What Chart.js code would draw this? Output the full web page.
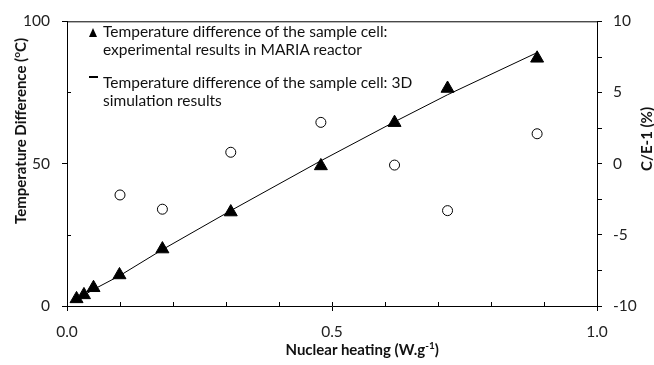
<!DOCTYPE html>
<html lang="en">
<head>
    <meta charset="UTF-8">
    <title>Temperature difference vs nuclear heating</title>
    <script src="https://cdn.jsdelivr.net/npm/chart.js"></script>
    <style>
        body {
            margin: 0;
            background: #fff;
        }

        .chart-wrap {
            position: relative;
            width: 654px;
            height: 365px;
            font-family: Lato, sans-serif;
            color: #111;
        }

        .legend-text {
            position: absolute;
            left: 103px;
            font-size: 15.5px;
            line-height: 18px;
            white-space: nowrap;
        }

        .legend-tri {
            position: absolute;
            left: 89px;
            top: 28px;
            width: 0;
            height: 0;
            border-left: 4.5px solid transparent;
            border-right: 4.5px solid transparent;
            border-bottom: 9px solid #000;
        }

        .legend-dash {
            position: absolute;
            left: 89px;
            top: 76px;
            width: 9px;
            height: 2px;
            background: #000;
        }

        .axis-title {
            position: absolute;
            font-weight: bold;
            font-size: 15px;
            white-space: nowrap;
            line-height: 16px;
        }

        .axis-title sup {
            font-size: 10px;
            line-height: 0;
        }
    </style>
</head>
<body>
    <div class="chart-wrap">
        <canvas id="heatChart"></canvas>

        <div class="legend-tri"></div>
        <div class="legend-text" style="top: 22px;">Temperature difference of the sample cell:<br>experimental results in MARIA reactor</div>
        <div class="legend-dash"></div>
        <div class="legend-text" style="top: 73px;">Temperature difference of the sample cell: 3D<br>simulation results</div>

        <div class="axis-title" id="yTitle">Temperature Difference (<sup>o</sup>C)</div>
        <div class="axis-title" id="y2Title">C/E-1 (%)</div>
        <div class="axis-title" id="xTitle">Nuclear heating (W.g<sup>-1</sup>)</div>
    </div>

    <script>
        // data
        const heating = [0.018, 0.032, 0.050, 0.099, 0.180, 0.309, 0.479, 0.618, 0.718, 0.887];
        const tempExp = [2.5, 3.9, 6.4, 10.9, 20.0, 33.0, 49.2, 64.4, 76.4, 87.0];
        const tempSim = [2.2, 3.8, 5.8, 10.6, 19.8, 33.5, 51.0, 64.7, 74.2, 89.0];
        const ceHeating = [0.100, 0.180, 0.309, 0.479, 0.618, 0.718, 0.887];
        const ceDev = [-2.2, -3.2, 0.8, 2.9, -0.1, -3.3, 2.1];

        // tick labels
        const xTicks = [0, 0.5, 1.0];
        const xTickLabels = ['0.0', '0.5', '1.0'];
        const yTicks = [0, 50, 100];
        const y2Ticks = [-10, -5, 0, 5, 10];
        const xMinor = [0.1, 0.2, 0.3, 0.4, 0.5, 0.6, 0.7, 0.8, 0.9];
        const yMinor = [25, 75];
        const y2Minor = [-7.5, -2.5, 2.5, 7.5];

        const pts = (xs, ys) => xs.map((x, i) => ({ x: x, y: ys[i] }));
        const tickFont = { family: 'Lato', size: 15.5 };

        // minor ticks + top frame line
        const framePlugin = {
            id: 'frame',
            afterDraw(chart) {
                const ctx = chart.ctx;
                const a = chart.chartArea;
                const sx = chart.scales.x, sy = chart.scales.y, sy2 = chart.scales.y2;
                ctx.save();
                ctx.strokeStyle = '#000';
                ctx.lineWidth = 1;
                ctx.beginPath();
                ctx.moveTo(a.left, a.top + 0.5);
                ctx.lineTo(a.right, a.top + 0.5);
                xMinor.forEach(v => {
                    const px = Math.round(sx.getPixelForValue(v)) + 0.5;
                    ctx.moveTo(px, a.bottom);
                    ctx.lineTo(px, a.bottom - 4);
                });
                yMinor.forEach(v => {
                    const py = Math.round(sy.getPixelForValue(v)) + 0.5;
                    ctx.moveTo(a.left, py);
                    ctx.lineTo(a.left + 4, py);
                });
                y2Minor.forEach(v => {
                    const py = Math.round(sy2.getPixelForValue(v)) + 0.5;
                    ctx.moveTo(a.right, py);
                    ctx.lineTo(a.right + 5, py);
                });
                ctx.stroke();
                ctx.restore();
            }
        };

        function axisStyle(extra) {
            return Object.assign({
                grid: { drawOnChartArea: false, tickLength: 5, color: '#000' },
                border: { color: '#000', width: 1 },
                title: { display: false }
            }, extra);
        }

        const ctx = document.getElementById('heatChart').getContext('2d');
        const chart = new Chart(ctx, {
            type: 'scatter',
            data: {
                datasets: [{
                    label: 'Experimental',
                    data: pts(heating, tempExp),
                    pointStyle: 'triangle',
                    pointRadius: 7.5,
                    backgroundColor: '#000',
                    borderColor: '#000',
                    borderWidth: 1,
                    yAxisID: 'y'
                }, {
                    label: 'C/E-1',
                    data: pts(ceHeating, ceDev),
                    pointStyle: 'circle',
                    pointRadius: 5,
                    backgroundColor: '#fff',
                    borderColor: '#000',
                    borderWidth: 1,
                    yAxisID: 'y2'
                }, {
                    label: '3D simulation',
                    data: pts(heating, tempSim),
                    showLine: true,
                    borderColor: '#000',
                    borderWidth: 1,
                    pointRadius: 0,
                    tension: 0,
                    yAxisID: 'y'
                }]
            },
            options: {
                responsive: true,
                maintainAspectRatio: false,
                animation: false,
                layout: { padding: { top: 20, left: 0, right: 0, bottom: 0 } },
                plugins: {
                    legend: { display: false },
                    tooltip: { enabled: false }
                },
                scales: {
                    x: axisStyle({
                        type: 'linear',
                        position: 'bottom',
                        min: 0,
                        max: 1,
                        afterFit: s => { s.height = 59; },
                        afterBuildTicks: s => { s.ticks = xTicks.map(v => ({ value: v })); },
                        ticks: {
                            font: tickFont,
                            color: '#222',
                            padding: 12,
                            maxRotation: 0,
                            autoSkip: false,
                            callback: v => xTickLabels[xTicks.indexOf(v)]
                        }
                    }),
                    y: axisStyle({
                        position: 'left',
                        min: 0,
                        max: 100,
                        afterFit: s => { s.width = 67; },
                        afterBuildTicks: s => { s.ticks = yTicks.map(v => ({ value: v })); },
                        ticks: { font: tickFont, color: '#222', padding: 12 }
                    }),
                    y2: axisStyle({
                        position: 'right',
                        min: -10,
                        max: 10,
                        afterFit: s => { s.width = 57; },
                        afterBuildTicks: s => { s.ticks = y2Ticks.map(v => ({ value: v })); },
                        ticks: { font: tickFont, color: '#222', padding: 11 }
                    })
                }
            },
            plugins: [framePlugin]
        });

        // place the axis titles (centres)
        function placeTitle(id, cx, cy, rotate) {
            const el = document.getElementById(id);
            const w = el.offsetWidth, h = el.offsetHeight;
            el.style.left = (cx - w / 2) + 'px';
            el.style.top = (cy - h / 2) + 'px';
            if (rotate) el.style.transform = 'rotate(-90deg)';
        }
        placeTitle('yTitle', 19.5, 131, true);
        placeTitle('y2Title', 646, 139, true);
        placeTitle('xTitle', 362, 349, false);
    </script>
</body>
</html>
